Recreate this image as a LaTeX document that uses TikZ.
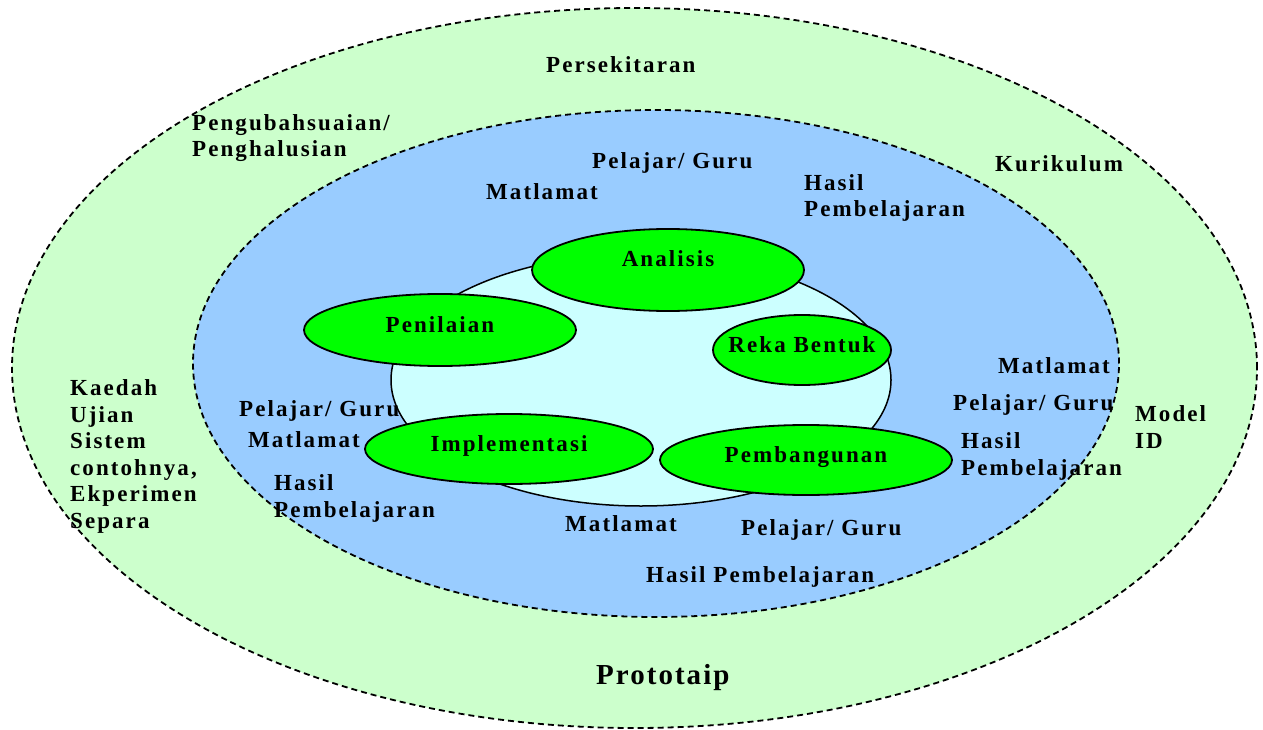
\documentclass[tikz,border=0pt]{standalone}
\usepackage{fontspec}
\setmainfont{Liberation Serif}
\usetikzlibrary{shapes.geometric,positioning}

\definecolor{envgreen}{HTML}{CCFFCC}
\definecolor{ringblue}{HTML}{99CCFF}
\definecolor{corecyan}{HTML}{CCFFFF}
\definecolor{phasegreen}{HTML}{00FF00}

\begin{document}
\begin{tikzpicture}[x=1pt,y=-1pt,
  ring/.style={draw=black,line width=1.8pt,dash pattern=on 6pt off 4pt},
  phase/.style={ellipse,draw=black,line width=1.8pt,fill=phasegreen,inner sep=0pt,text depth=10pt,
    font=\bfseries\addfontfeature{LetterSpace=9}\fontsize{23}{26.5}\selectfont},
  lbl/.style={font=\bfseries\addfontfeature{LetterSpace=9}\fontsize{23}{26.5}\selectfont,inner sep=0pt,align=left,anchor=base west}]
\useasboundingbox (0,0) rectangle (1263,730);

% rings
\coordinate (cout) at (634.5,368);
\coordinate (cmid) at (656,363.5);
\coordinate (cin) at (641,380);
\fill[envgreen] (cout) ellipse [x radius=622.5pt, y radius=360pt];
\draw[ring] (cout) ellipse [x radius=622.5pt, y radius=360pt];
\fill[ringblue] (cmid) ellipse [x radius=463pt, y radius=253.5pt];
\draw[ring] (cmid) ellipse [x radius=463pt, y radius=253.5pt];
\draw[line width=1.5pt,fill=corecyan] (cin) ellipse [x radius=250pt, y radius=126pt];

% phases
\node[phase,minimum width=272pt,minimum height=82pt,text depth=22pt] (analisis) at (668,270) {Analisis};
\node[phase,minimum width=272pt,minimum height=72pt] (penilaian) at (440,330) {Penilaian};
\node[phase,minimum width=178pt,minimum height=70pt,inner xsep=-22pt] (reka) at (802,350) {Reka Bentuk};
\node[phase,minimum width=288pt,minimum height=70pt] (impl) at (509,449) {Implementasi};
\node[phase,minimum width=292pt,minimum height=70pt] (bangun) at (806,460) {Pembangunan};

% outer ring texts
\node[lbl] (persekitaran) at (546,73) {Persekitaran};
\node[lbl] (ubah) at (192,157) {Pengubahsuaian/\\Penghalusian};
\node[lbl] (kurikulum) at (995,172) {Kurikulum};
\node[lbl] (model) at (1135,448) {Model\\ID};
\node[lbl] (kaedah) at (70,528) {Kaedah\\Ujian\\Sistem\\contohnya,\\Ekperimen\\Separa};
\node[lbl,font=\bfseries\addfontfeature{LetterSpace=7}\fontsize{29}{32}\selectfont] (prototaip) at (596,684) {Prototaip};

% middle ring texts
\node[lbl] (pg1) at (592,169) {Pelajar/ Guru};
\node[lbl] (mt1) at (486,200) {Matlamat};
\node[lbl] (hp1) at (804,217) {Hasil\\Pembelajaran};
\node[lbl] (mt2) at (998,373) {Matlamat};
\node[lbl] (pg2) at (953,410) {Pelajar/ Guru};
\node[lbl] (hp2) at (961,475) {Hasil\\Pembelajaran};
\node[lbl] (pg3) at (239,416) {Pelajar/ Guru};
\node[lbl] (mt3) at (248,447) {Matlamat};
\node[lbl] (hp3) at (274,517) {Hasil\\Pembelajaran};
\node[lbl] (mt4) at (565,531) {Matlamat};
\node[lbl] (pg4) at (741,535) {Pelajar/ Guru};
\node[lbl] (hp4) at (646,582) {Hasil Pembelajaran};
\end{tikzpicture}
\end{document}
